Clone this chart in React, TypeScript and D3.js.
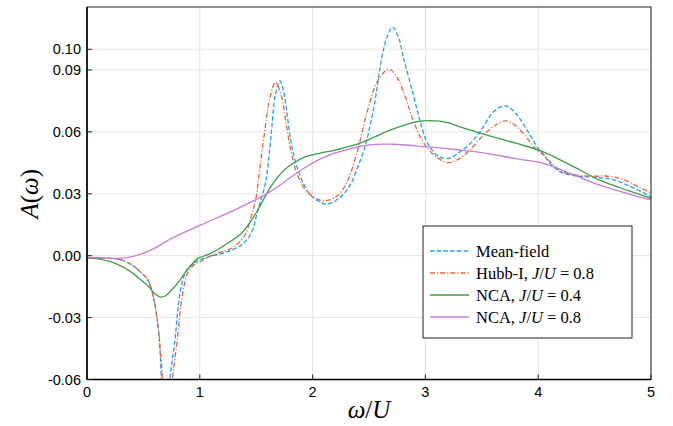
import React from "react";
import * as d3 from "d3";

// ---- Data ----
const xTicks = [0, 1, 2, 3, 4, 5];
const yTicks = [-0.06, -0.03, 0.0, 0.03, 0.06, 0.09, 0.1];
const yTickLabels = ["-0.06", "-0.03", "0.00", "0.03", "0.06", "0.09", "0.10"];

const mfOmega = [0, 0.1, 0.2, 0.3, 0.4, 0.47, 0.54, 0.59, 0.62, 0.64, 0.66, 0.69, 0.72, 0.735, 0.78, 0.81, 0.845, 0.89, 0.95, 1.0, 1.1, 1.22, 1.37, 1.456, 1.515, 1.575, 1.6, 1.635, 1.67, 1.71, 1.745, 1.78, 1.82, 1.88, 1.97, 2.05, 2.12, 2.2, 2.28, 2.34, 2.39, 2.44, 2.48, 2.55, 2.61, 2.66, 2.71, 2.76, 2.81, 2.89, 2.95, 3.02, 3.12, 3.21, 3.3, 3.4, 3.5, 3.6, 3.71, 3.8, 3.9, 4.0, 4.05, 4.1, 4.2, 4.35, 4.5, 4.65, 4.8, 5.0];
const mfValues = [-0.001, -0.0011, -0.0013, -0.002, -0.0045, -0.0077, -0.0118, -0.0205, -0.03, -0.04, -0.06, -0.09, -0.08, -0.06, -0.041, -0.024, -0.0125, -0.0065, -0.0035, -0.002, -0.0002, 0.0015, 0.0052, 0.0109, 0.0222, 0.0335, 0.0415, 0.06, 0.078, 0.0848, 0.079, 0.066, 0.052, 0.04, 0.0302, 0.0265, 0.025, 0.0265, 0.0302, 0.035, 0.0415, 0.0485, 0.056, 0.0739, 0.0949, 0.106, 0.1107, 0.106, 0.0949, 0.0787, 0.0658, 0.0545, 0.048, 0.0472, 0.05, 0.0545, 0.0612, 0.0695, 0.0726, 0.069, 0.061, 0.052, 0.0488, 0.045, 0.0405, 0.0385, 0.038, 0.037, 0.034, 0.0286];

const hubOmega = [0, 0.1, 0.2, 0.3, 0.4, 0.47, 0.54, 0.59, 0.62, 0.645, 0.67, 0.71, 0.74, 0.757, 0.8, 0.83, 0.865, 0.9, 0.96, 1.0, 1.1, 1.2, 1.28, 1.34, 1.4, 1.456, 1.5, 1.53, 1.575, 1.62, 1.67, 1.72, 1.76, 1.8, 1.86, 1.95, 2.08, 2.15, 2.22, 2.3, 2.4, 2.48, 2.58, 2.675, 2.73, 2.8, 2.89, 2.97, 3.06, 3.2, 3.3, 3.4, 3.5, 3.6, 3.71, 3.8, 3.9, 4.0, 4.05, 4.1, 4.2, 4.35, 4.5, 4.6, 4.75, 4.9, 5.0];
const hubValues = [-0.001, -0.0011, -0.0013, -0.002, -0.0045, -0.0077, -0.0118, -0.0205, -0.03, -0.042, -0.06, -0.09, -0.075, -0.06, -0.041, -0.025, -0.0135, -0.0075, -0.004, -0.003, 0.0, 0.002, 0.0035, 0.006, 0.01, 0.019, 0.0286, 0.0415, 0.06, 0.076, 0.0839, 0.078, 0.066, 0.053, 0.04, 0.031, 0.0267, 0.027, 0.029, 0.035, 0.0512, 0.069, 0.085, 0.0903, 0.088, 0.0803, 0.0658, 0.056, 0.0496, 0.0451, 0.047, 0.0515, 0.0575, 0.0625, 0.0653, 0.063, 0.057, 0.0505, 0.0488, 0.046, 0.041, 0.039, 0.0385, 0.0386, 0.037, 0.033, 0.0305];

const nca4Omega = [0, 0.1, 0.2, 0.28, 0.38, 0.48, 0.55, 0.6, 0.65, 0.7, 0.75, 0.824, 0.9, 0.985, 1.07, 1.16, 1.26, 1.37, 1.45, 1.515, 1.63, 1.75, 1.85, 1.94, 2.06, 2.2, 2.42, 2.65, 2.8, 2.92, 3.04, 3.2, 3.3, 3.54, 3.8, 4.04, 4.3, 4.54, 4.8, 5.0];
const nca4Values = [-0.001, -0.0015, -0.0028, -0.0045, -0.0075, -0.0118, -0.0152, -0.0183, -0.0201, -0.0193, -0.0166, -0.0118, -0.006, -0.0013, 0.0005, 0.003, 0.0065, 0.0109, 0.0165, 0.0222, 0.0335, 0.0415, 0.0455, 0.048, 0.0496, 0.0512, 0.0545, 0.06, 0.063, 0.0648, 0.0654, 0.0645, 0.0625, 0.0585, 0.0545, 0.0504, 0.0435, 0.0367, 0.0315, 0.0278];

const nca8Omega = [0, 0.14, 0.28, 0.38, 0.47, 0.57, 0.66, 0.75, 1.01, 1.31, 1.6, 1.9, 2.06, 2.24, 2.5, 2.71, 3.0, 3.3, 3.54, 3.8, 4.04, 4.3, 4.54, 4.8, 5.0];
const nca8Values = [-0.0008, -0.0011, -0.0013, -0.0007, 0.0006, 0.0028, 0.0055, 0.0084, 0.0149, 0.0222, 0.0302, 0.0415, 0.0467, 0.0504, 0.0537, 0.054, 0.0528, 0.0512, 0.0496, 0.047, 0.0448, 0.0395, 0.0343, 0.03, 0.027];

const seriesNames = ["Mean-field", "Hubb-I", "NCA", "NCA"];
const seriesJU = [null, "0.8", "0.4", "0.8"];
const seriesColors = ["#1e9ffc", "#e8623a", "#3c9f45", "#c97bdb"];
const seriesDash = ["4.5,2.2", "5,2,1.2,2", null, null];

const W = 673;
const H = 426;
const M = { left: 87, right: 651, top: 7, bottom: 379.5 };

export default function App() {
  const x = d3.scaleLinear().domain([0, 5]).range([M.left, M.right]);
  const y = d3.scaleLinear().domain([-0.06, 0.1205]).range([M.bottom, M.top]);

  const omegas = [mfOmega, hubOmega, nca4Omega, nca8Omega];
  const vals = [mfValues, hubValues, nca4Values, nca8Values];

  const line = d3
    .line<[number, number]>()
    .x((d) => x(d[0]))
    .y((d) => y(d[1]))
    .curve(d3.curveCatmullRom.alpha(0.5));

  const paths = omegas.map((om, i) =>
    line(om.map((w, j) => [w, vals[i][j]] as [number, number]))
  );

  const serif = "'Liberation Serif', 'DejaVu Serif', serif";
  const sans = "'Liberation Sans', Arial, sans-serif";

  const legX = 423;
  const legY = 226;
  const legW = 209;
  const legH = 112;
  const rowY = [251, 273, 295, 317];

  return (
    <svg
      width={W}
      height={H}
      viewBox={`0 0 ${W} ${H}`}
      style={{ position: "absolute", left: 0, top: 0, background: "#fff" }}
    >
      <defs>
        <clipPath id="plotclip">
          <rect x={M.left} y={M.top} width={M.right - M.left} height={M.bottom - M.top} />
        </clipPath>
      </defs>
      <rect x={0} y={0} width={W} height={H} fill="#fff" />
      {/* grid */}
      <g stroke="#e4e4e4" strokeWidth={1}>
        {xTicks.map((t) => (
          <line key={"gx" + t} x1={x(t)} x2={x(t)} y1={M.top} y2={M.bottom} />
        ))}
        {yTicks.map((t) => (
          <line key={"gy" + t} x1={M.left} x2={M.right} y1={y(t)} y2={y(t)} />
        ))}
      </g>
      {/* series */}
      <g clipPath="url(#plotclip)" fill="none">
        {paths.map((p, i) => (
          <path
            key={i}
            d={p || ""}
            stroke={seriesColors[i]}
            strokeWidth={1.3}
            strokeDasharray={seriesDash[i] || undefined}
          />
        ))}
      </g>
      {/* frame */}
      <rect
        x={M.left}
        y={M.top}
        width={M.right - M.left}
        height={M.bottom - M.top}
        fill="none"
        stroke="#222"
        strokeWidth={1}
      />
      <line x1={M.left} x2={M.left} y1={M.top} y2={M.bottom} stroke="#000" strokeWidth={1.5} />
      <line x1={M.left} x2={M.right} y1={M.bottom} y2={M.bottom} stroke="#000" strokeWidth={1.5} />
      {/* ticks */}
      <g stroke="#222" strokeWidth={1}>
        {xTicks.map((t) => (
          <line key={"tx" + t} x1={x(t)} x2={x(t)} y1={M.bottom} y2={M.bottom - 5} />
        ))}
        {yTicks.map((t) => (
          <line key={"ty" + t} x1={M.left} x2={M.left + 5} y1={y(t)} y2={y(t)} />
        ))}
      </g>
      {/* tick labels */}
      <g fontFamily={sans} fontSize={14.5} fill="#000">
        {xTicks.map((t) => (
          <text key={"lx" + t} x={x(t)} y={397} textAnchor="middle">
            {String(t)}
          </text>
        ))}
        {yTicks.map((t, i) => (
          <text key={"ly" + t} x={81} y={y(t) + 5} textAnchor="end">
            {yTickLabels[i]}
          </text>
        ))}
      </g>
      {/* axis labels */}
      <text
        fontFamily={serif}
        fontSize={25}
        textAnchor="middle"
        transform={`translate(38, ${y(0.03)}) rotate(-90)`}
      >
        <tspan fontStyle="italic">A</tspan>
        <tspan>(</tspan>
        <tspan fontStyle="italic">ω</tspan>
        <tspan>)</tspan>
      </text>
      <text fontFamily={serif} fontSize={25} textAnchor="middle" x={(M.left + M.right) / 2} y={418}>
        <tspan fontStyle="italic">ω</tspan>
        <tspan>/</tspan>
        <tspan fontStyle="italic">U</tspan>
      </text>
      {/* legend */}
      <rect x={legX} y={legY} width={legW} height={legH} fill="#fff" stroke="#222" strokeWidth={1} />
      {seriesNames.map((name, i) => (
        <g key={"leg" + i}>
          <line
            x1={430}
            x2={469}
            y1={rowY[i]}
            y2={rowY[i]}
            stroke={seriesColors[i]}
            strokeWidth={1.3}
            strokeDasharray={seriesDash[i] || undefined}
          />
          <text x={476} y={rowY[i] + 5.5} fontFamily={serif} fontSize={16.5} fill="#000">
            {seriesJU[i] === null ? (
              <tspan>{name}</tspan>
            ) : (
              <>
                <tspan>{name + ", "}</tspan>
                <tspan fontStyle="italic">J</tspan>
                <tspan>/</tspan>
                <tspan fontStyle="italic">U</tspan>
                <tspan>{" = " + seriesJU[i]}</tspan>
              </>
            )}
          </text>
        </g>
      ))}
    </svg>
  );
}
